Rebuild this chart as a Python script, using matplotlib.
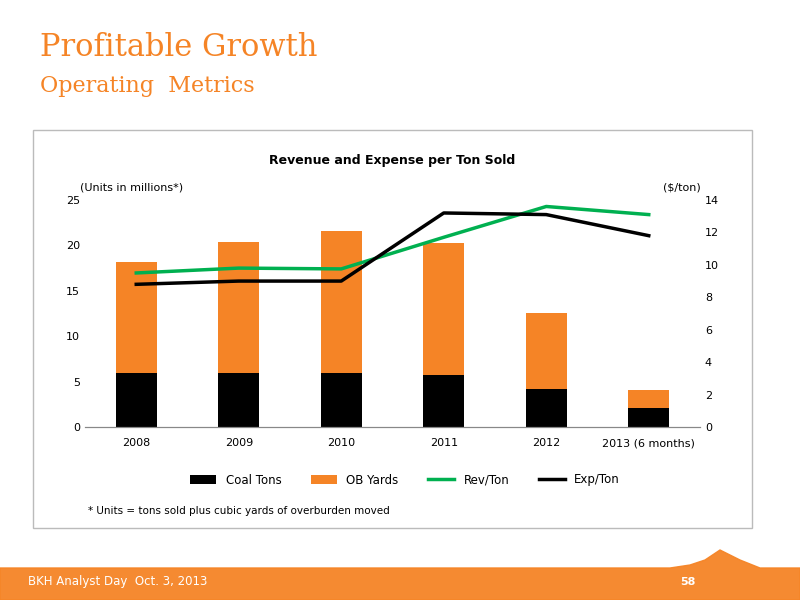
import matplotlib
matplotlib.use("Agg")
import matplotlib.pyplot as plt
from matplotlib.patches import Rectangle, Polygon
import numpy as np

years = ["2008", "2009", "2010", "2011", "2012", "2013 (6 months)"]
coal_tons = [6.0, 5.9, 5.9, 5.7, 4.2, 2.1]
ob_yards = [12.2, 14.5, 15.7, 14.6, 8.3, 2.0]
rev_ton = [9.5, 9.8, 9.75, 11.7, 13.6, 13.1]
exp_ton = [8.8, 9.0, 9.0, 13.2, 13.1, 11.8]

ORANGE = "#F58426"
GREEN = "#00B050"
fig = plt.figure(figsize=(8, 6), dpi=100)
W, H = 800, 600
def fx(x): return x / W
def fy(y): return 1 - y / H

# Titles
fig.text(fx(40), fy(48), "Profitable Growth", color=ORANGE, fontsize=22, family="DejaVu Serif", va="center")
fig.text(fx(40), fy(86), "Operating  Metrics", color=ORANGE, fontsize=16, family="DejaVu Serif", va="center")

# chart box
fig.patches.append(Rectangle((fx(33), fy(528)), fx(752) - fx(33), fy(130) - fy(528),
                             transform=fig.transFigure, fill=False, edgecolor="#BBBBBB", lw=1))

# footer band
fig.patches.append(Polygon([(fx(0), fy(600)), (fx(800), fy(600)), (fx(800), fy(568)),
                            (fx(760), fy(568)), (fx(740), fy(560)), (fx(720), fy(550)), (fx(705), fy(560)),
                            (fx(690), fy(565)), (fx(670), fy(568)), (fx(0), fy(568))],
                           closed=True, transform=fig.transFigure, color=ORANGE, alpha=0.95))
fig.text(fx(28), fy(582), "BKH Analyst Day  Oct. 3, 2013", color="white", fontsize=8.5, va="center")
fig.text(fx(680), fy(582), "58", color="white", fontsize=8, va="center", weight="bold")

ax = fig.add_axes([fx(85), fy(427), fx(700) - fx(85), fy(200) - fy(427)])
x = np.arange(len(years))
ax.bar(x, coal_tons, width=0.4, color="black", label="Coal Tons")
ax.bar(x, ob_yards, width=0.4, bottom=coal_tons, color=ORANGE, label="OB Yards")
ax.set_ylim(0, 25)
ax.set_yticks(range(0, 26, 5))
ax.set_xlim(-0.5, len(years) - 0.5)
ax.set_xticks(x)
ax.set_xticklabels(years)
ax2 = ax.twinx()
ax2.plot(x, rev_ton, color=GREEN, lw=2.5, label="Rev/Ton")
ax2.plot(x, exp_ton, color="black", lw=2.5, label="Exp/Ton")
ax2.set_ylim(0, 14)
ax2.set_yticks(range(0, 15, 2))
for a in (ax, ax2):
    a.tick_params(labelsize=8, length=0)
    for s in ["top", "right", "left"]:
        a.spines[s].set_visible(False)
    a.spines["bottom"].set_color("#888888")
ax.tick_params(axis="x", pad=8)
ax.set_title("Revenue and Expense per Ton Sold", fontsize=9, weight="bold", pad=26)
fig.text(fx(80), fy(188), "(Units in millions*)", fontsize=8, va="center")
fig.text(fx(663), fy(188), "($/ton)", fontsize=8, va="center")

h1, l1 = ax.get_legend_handles_labels()
h2, l2 = ax2.get_legend_handles_labels()
fig.legend(h1 + h2, l1 + l2, loc="center", bbox_to_anchor=(fx(405), fy(480)), ncol=4,
           frameon=False, fontsize=8.5, handlelength=2.2, columnspacing=2.5)
fig.text(fx(88), fy(511), "* Units = tons sold plus cubic yards of overburden moved", fontsize=7.5, va="center")

fig.savefig("out.png", dpi=100)
